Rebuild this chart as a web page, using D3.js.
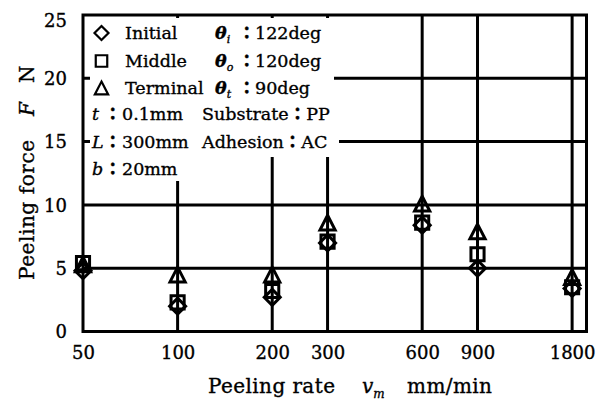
<!DOCTYPE html>
<html>
<head>
<meta charset="utf-8">
<script src="https://cdn.jsdelivr.net/npm/d3@7"></script>
<style>
  html, body { margin: 0; padding: 0; background: #fff; }
  svg { display: block; }
  text { font-family: "DejaVu Serif", "Liberation Serif", serif; fill: #000; stroke: #000; stroke-width: 0.35px; }
</style>
</head>
<body>
<svg id="chart" width="597" height="403"></svg>
<script>
// Peeling rate (mm/min) on a log axis
const rates = [50, 100, 200, 300, 600, 900, 1800];
const xTicks = [50, 100, 200, 300, 600, 900, 1800];
const yTicks = [0, 5, 10, 15, 20, 25];

// Peeling force F (N) at each stage of peeling
const initial  = [4.8, 2.0, 2.7, 7.0, 8.4, 5.0, 3.4];
const middle   = [5.4, 2.3, 3.2, 7.1, 8.6, 6.1, 3.5];
const terminal = [5.3, 4.5, 4.5, 8.6, 10.1, 7.9, 4.3];

const series = [
  { name: "Initial",  shape: "diamond",  values: initial },
  { name: "Middle",   shape: "square",   values: middle },
  { name: "Terminal", shape: "triangle", values: terminal }
];

const svg = d3.select("#chart");
const plotL = 83, plotR = 586.5, plotT = 15, plotB = 331.5;

const x = d3.scaleLog().domain([50, 2000]).range([plotL, plotR]);
const y = d3.scaleLinear().domain([0, 25]).range([plotB, plotT]);

const LW = 3;

// grid lines
const grid = svg.append("g").attr("stroke", "#000").attr("stroke-width", LW);
grid.selectAll("line.v").data(xTicks.slice(1)).join("line")
  .attr("x1", d => x(d)).attr("x2", d => x(d))
  .attr("y1", plotT).attr("y2", plotB);
grid.selectAll("line.h").data(yTicks.slice(1, -1)).join("line")
  .attr("x1", plotL).attr("x2", plotR)
  .attr("y1", d => y(d)).attr("y2", d => y(d));

// frame
svg.append("rect")
  .attr("x", plotL).attr("y", plotT)
  .attr("width", plotR - plotL).attr("height", plotB - plotT)
  .attr("fill", "none").attr("stroke", "#000").attr("stroke-width", LW);

// marker shapes
function markerPath(shape, s) {
  const h = s / 2;
  if (shape === "diamond") return `M0,${-h}L${h},0L0,${h}L${-h},0Z`;
  if (shape === "square") { const a = h * 0.82; return `M${-a},${-a}H${a}V${a}H${-a}Z`; }
  const w = h * 0.95, t = h * 0.92;
  return `M0,${-t}L${w},${t}L${-w},${t}Z`;
}

// data markers
const marks = svg.append("g");
series.forEach(s => {
  marks.selectAll(null).data(s.values.map((v, i) => ({ r: rates[i], v }))).join("path")
    .attr("transform", d => `translate(${x(d.r)},${y(d.v)})`)
    .attr("d", markerPath(s.shape, 16))
    .attr("fill", "none").attr("stroke", "#000").attr("stroke-width", 3)
    .attr("stroke-linejoin", "miter");
});

// white panel behind the legend and condition notes
const panel = svg.append("g").attr("fill", "#fff");
panel.append("rect").attr("x", 90).attr("y", 18).attr("width", 244).attr("height", 139);
panel.append("rect").attr("x", 90).attr("y", 130).attr("width", 249).attr("height", 27);
panel.append("rect").attr("x", 90).attr("y", 156).attr("width", 92).attr("height", 25);

// axes labels (ticks)
const xAxis = d3.axisBottom(x).tickValues(xTicks).tickFormat(d3.format("d")).tickSize(0).tickPadding(12);
svg.append("g").attr("transform", `translate(0,${plotB})`).call(xAxis)
  .call(g => g.select(".domain").remove())
  .call(g => g.selectAll("text").attr("font-size", 18).attr("font-family", "DejaVu Serif").attr("dy", "0.85em"));

const yAxis = d3.axisLeft(y).tickValues(yTicks).tickSize(0).tickPadding(16);
svg.append("g").attr("transform", `translate(${plotL},0)`).call(yAxis)
  .call(g => g.select(".domain").remove())
  .call(g => g.selectAll("text").attr("font-size", 18).attr("font-family", "DejaVu Serif")
    .attr("dy", d => d === 25 ? "0.65em" : "0.35em"));

// legend
const legendRows = [33, 61, 88];
const leg = svg.append("g");
series.forEach((s, i) => {
  leg.append("path")
    .attr("transform", `translate(101.5,${legendRows[i]})`)
    .attr("d", markerPath(s.shape, 14))
    .attr("fill", "none").attr("stroke", "#000").attr("stroke-width", 2.2);
  leg.append("text").attr("x", 125).attr("y", legendRows[i] + 6).attr("font-size", 17.5).text(s.name);
});

// condition notes
const angleNotes = [["i", "122deg"], ["o", "120deg"], ["t", "90deg"]];
angleNotes.forEach((a, i) => {
  const t = leg.append("text").attr("x", 215).attr("y", legendRows[i] + 6).attr("font-size", 17.5);
  t.append("tspan").attr("font-style", "italic").attr("font-weight", "bold").text("θ");
  t.append("tspan").attr("font-style", "italic").attr("font-size", 11).attr("dy", 4).text(a[0]);
  t.append("tspan").attr("x", 238).attr("dy", -4).attr("font-family", "Noto Sans CJK JP").attr("font-weight", "bold").text("：");
  t.append("tspan").attr("x", 255).text(a[1]);
});

const specNotes = [["t", "0.1mm", 120], ["L", "300mm", 148], ["b", "20mm", 175]];
specNotes.forEach(n => {
  const t = leg.append("text").attr("x", 92).attr("y", n[2]).attr("font-size", 17.5);
  t.append("tspan").attr("font-style", "italic").text(n[0]);
  t.append("tspan").attr("x", 104).attr("font-family", "Noto Sans CJK JP").attr("font-weight", "bold").text("：");
  t.append("tspan").attr("x", 122).text(n[1]);
});

[["Substrate", "PP", 120], ["Adhesion", "AC", 148]].forEach(n => {
  const t = leg.append("text").attr("x", 202).attr("y", n[2]).attr("font-size", 17.5);
  t.append("tspan").text(n[0]);
  t.append("tspan").attr("font-family", "Noto Sans CJK JP").attr("font-weight", "bold").text("：");
  t.append("tspan").text(n[1]);
});

// x axis title
const xt = svg.append("g").attr("font-size", 20);
xt.append("text").attr("x", 208).attr("y", 393).attr("textLength", 127).text("Peeling rate");
xt.append("text").attr("x", 362).attr("y", 393).attr("font-style", "italic")
  .call(t => { t.append("tspan").text("v"); t.append("tspan").attr("font-size", 12).attr("dy", 5).text("m"); });
xt.append("text").attr("x", 407).attr("y", 393).attr("textLength", 85).text("mm/min");

// y axis title
const yt = svg.append("g").attr("font-size", 20).attr("transform", "translate(34,0) rotate(-90)");
yt.append("text").attr("x", -280).attr("y", 0).attr("textLength", 140).text("Peeling force");
yt.append("text").attr("x", -116).attr("y", 0).attr("font-style", "italic").text("F");
yt.append("text").attr("x", -83).attr("y", 0).text("N");
</script>
</body>
</html>
